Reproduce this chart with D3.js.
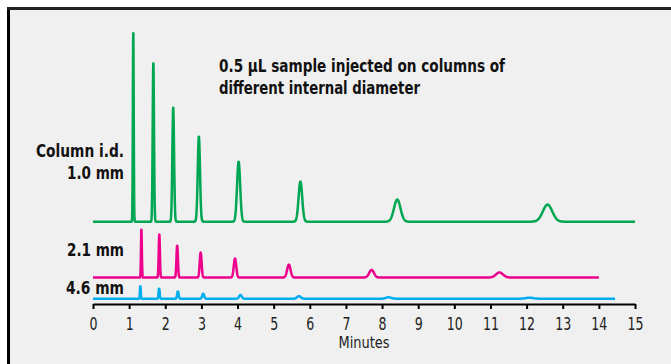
<!DOCTYPE html>
<html>
<head>
<meta charset="utf-8">
<script src="https://cdn.jsdelivr.net/npm/d3@7"></script>
<style>
  body { margin: 0; background: #fff; }
  svg { display: block; }
  .lbl { font-family: 'Liberation Sans Narrow', 'DejaVu Sans Condensed', 'Liberation Sans', sans-serif; font-weight: bold; font-size: 17px; fill: #111; }
  .axis text { font-family: 'Liberation Sans Narrow', 'DejaVu Sans Condensed', 'Liberation Sans', sans-serif; font-size: 17px; fill: #222; }
</style>
</head>
<body>
<svg></svg>
<script>
// ====== dimensions ====== //
const width = 671;
const height = 364;

// ====== data ====== //
// peak retention times (min), heights (signal units), widths (sigma, min)
const green_times   = [1.115, 1.67, 2.22, 2.93, 4.03, 5.74, 8.42, 12.58];
const green_heights = [67.5, 56.8, 40.7, 30.4, 21.4, 14.3, 7.9, 6.1];
const green_sigmas  = [0.012, 0.018, 0.024, 0.031, 0.043, 0.05, 0.09, 0.13];

const pink_times    = [1.34, 1.835, 2.33, 2.98, 3.93, 5.42, 7.71, 11.25];
const pink_heights  = [17.1, 15.4, 11.4, 8.9, 6.8, 4.6, 2.7, 1.8];
const pink_sigmas   = [0.012, 0.016, 0.02, 0.026, 0.034, 0.047, 0.066, 0.097];

const blue_times    = [1.31, 1.83, 2.35, 3.05, 4.08, 5.70, 8.18, 12.08];
const blue_heights  = [4.5, 3.6, 2.6, 1.8, 1.3, 0.9, 0.5, 0.35];
const blue_sigmas   = [0.012, 0.016, 0.021, 0.027, 0.036, 0.05, 0.07, 0.1];

// trace offsets (signal units) and run lengths (min)
const baselines = [29.4, 9.46, 1.9];
const run_ends  = [15, 14, 14.45];
const colors    = ["#00a651", "#ec008c", "#00aeef"];

const tick_values = d3.range(0, 16);

const svg = d3.select('svg')
    .attr('width', width)
    .attr('height', height);

// frame
svg.append("rect")
    .attr("x", 7).attr("y", 7)
    .attr("width", width - 7).attr("height", height - 7)
    .attr("fill", "#f0f0f0");
svg.append("line")
    .attr("x1", 8.5).attr("x2", 8.5).attr("y1", 7).attr("y2", height)
    .attr("stroke", "#000").attr("stroke-width", 3);
svg.append("line")
    .attr("x1", 7).attr("x2", width).attr("y1", 8.5).attr("y2", 8.5)
    .attr("stroke", "#222").attr("stroke-width", 3);

// scales
const x = d3.scaleLinear().domain([0, 15]).range([93, 635]);
const y = d3.scaleLinear().domain([0, 100]).range([304, 24]);

// build a trace as the sum of its peaks
function trace(times, heights, sigmas, base, tEnd) {
    const pts = [];
    for (let t = 0; t <= tEnd + 1e-9; t += 0.004) {
        let v = base;
        times.forEach((tr, i) => {
            const z = (t - tr) / sigmas[i];
            v += heights[i] * Math.exp(-0.5 * z * z);
        });
        pts.push([t, v]);
    }
    return pts;
}

const traces = [
    trace(green_times, green_heights, green_sigmas, baselines[0], run_ends[0]),
    trace(pink_times, pink_heights, pink_sigmas, baselines[1], run_ends[1]),
    trace(blue_times, blue_heights, blue_sigmas, baselines[2], run_ends[2])
];

const line = d3.line()
    .x(d => x(d[0]))
    .y(d => y(d[1]));

svg.selectAll("path.trace")
    .data(traces)
    .enter()
    .append("path")
    .attr("class", "trace")
    .attr("d", line)
    .attr("fill", "none")
    .attr("stroke", (d, i) => colors[i])
    .attr("stroke-width", 2.5)
    .attr("stroke-linejoin", "round");

// x axis
const axis = svg.append("g")
    .attr("class", "axis")
    .attr("transform", `translate(0,${y(0)})`)
    .call(d3.axisBottom(x).tickValues(tick_values).tickSize(5).tickSizeOuter(0).tickPadding(9));
axis.select(".domain").attr("stroke", "#000").attr("stroke-width", 2);
axis.selectAll(".tick line").attr("stroke", "#000").attr("stroke-width", 2);
// condensed look for tick numbers
axis.selectAll(".tick text")
    .attr("textLength", d => String(d).length * 8)
    .attr("lengthAdjust", "spacingAndGlyphs");

svg.append("text")
    .attr("x", x(7.5)).attr("y", 348)
    .attr("text-anchor", "middle")
    .attr("textLength", 51).attr("lengthAdjust", "spacingAndGlyphs")
    .style("font-family", "'Liberation Sans Narrow', 'DejaVu Sans Condensed', sans-serif")
    .style("font-size", "16px")
    .attr("fill", "#222")
    .text("Minutes");

// texts
svg.append("text").attr("class", "lbl")
    .attr("x", 219).attr("y", 72.3)
    .attr("textLength", 286).attr("lengthAdjust", "spacingAndGlyphs")
    .text("0.5 µL sample injected on columns of");
svg.append("text").attr("class", "lbl")
    .attr("x", 219).attr("y", 94.3)
    .attr("textLength", 201).attr("lengthAdjust", "spacingAndGlyphs")
    .text("different internal diameter");

const labels = [
    { t: "Column i.d.", y: 156.7, w: 88 },
    { t: "1.0 mm", y: 179, w: 57 },
    { t: "2.1 mm", y: 255.5, w: 57 },
    { t: "4.6 mm", y: 293.5, w: 58 }
];
labels.forEach(l => {
    svg.append("text").attr("class", "lbl")
        .attr("x", 124 - l.w).attr("y", l.y)
        .attr("textLength", l.w).attr("lengthAdjust", "spacingAndGlyphs")
        .text(l.t);
});
</script>
</body>
</html>
